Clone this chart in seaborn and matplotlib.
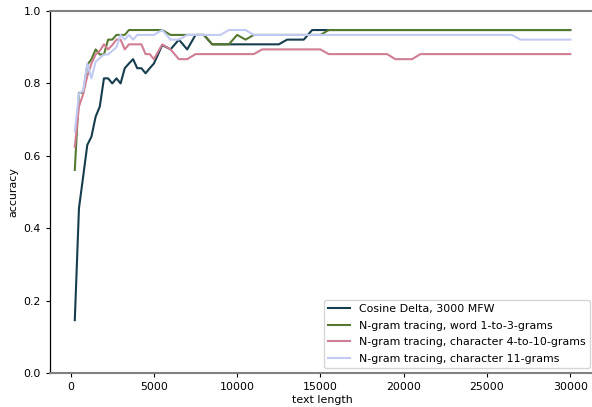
import numpy as np
import pandas as pd
import matplotlib
matplotlib.use("Agg")
import matplotlib.pyplot as plt
import seaborn as sns

text_length = list(range(250, 5001, 250)) + list(range(5500, 30001, 500))

cosine_delta = [0.146, 0.455, 0.542, 0.630, 0.653, 0.708, 0.736, 0.814, 0.814, 0.800,
                0.814, 0.800, 0.842, 0.855, 0.867, 0.842, 0.842, 0.828, 0.842, 0.855,
                0.906, 0.894, 0.921, 0.894, 0.934, 0.934,
                0.908, 0.908, 0.908, 0.908, 0.908, 0.908, 0.908, 0.908, 0.908,
                0.921, 0.921, 0.921] + [0.9475] * 32

word_ngrams = [0.561, 0.774, 0.774, 0.851, 0.867, 0.894, 0.880, 0.880, 0.921, 0.921,
               0.934, 0.934, 0.934, 0.9475, 0.9475, 0.9475, 0.9475, 0.9475, 0.9475, 0.9475,
               0.9475, 0.934, 0.934, 0.934, 0.934, 0.934,
               0.908, 0.908, 0.908, 0.934, 0.921] + [0.934] * 9 + [0.9475] * 30

char_4_10 = [0.625, 0.736, 0.770, 0.820, 0.855, 0.880, 0.890, 0.908, 0.894, 0.906,
             0.921, 0.921, 0.894, 0.908, 0.908, 0.908, 0.908, 0.881, 0.881, 0.867,
             0.908, 0.894, 0.867, 0.867] + [0.881] * 8 + [0.894] * 8 + [0.881] * 8 \
            + [0.867] * 3 + [0.881] * 19

char_11 = [0.667, 0.772, 0.780, 0.855, 0.814, 0.860, 0.870, 0.880, 0.880, 0.890,
           0.900, 0.934, 0.921, 0.934, 0.921, 0.934, 0.934, 0.934, 0.934, 0.934,
           0.9475, 0.921, 0.921, 0.934, 0.934, 0.934, 0.934, 0.934,
           0.9475, 0.9475, 0.9475] + [0.934] * 32 + [0.921] * 7

series_names = ["Cosine Delta, 3000 MFW",
                "N-gram tracing, word 1-to-3-grams",
                "N-gram tracing, character 4-to-10-grams",
                "N-gram tracing, character 11-grams"]

frames = []
for name, vals in zip(series_names, [cosine_delta, word_ngrams, char_4_10, char_11]):
    frames.append(pd.DataFrame({"text length": text_length, "accuracy": vals, "method": name}))
df = pd.concat(frames, ignore_index=True)

plt.rcParams["font.size"] = 7.9
plt.rcParams["font.family"] = ["DejaVu Sans"]

fig = plt.figure(figsize=(5.92, 4.07), dpi=100)
ax = fig.add_axes([0.0845, 0.0835, 0.9206, 0.8894])

palette = sns.color_palette("cubehelix", 4)
sns.lineplot(data=df, x="text length", y="accuracy", hue="method",
             palette=palette, linewidth=1.5, ax=ax, hue_order=series_names)

ax.set_ylim(0, 1.0)
ax.set_xticks([0, 5000, 10000, 15000, 20000, 25000, 30000])
ax.set_yticks([0.0, 0.2, 0.4, 0.6, 0.8, 1.0])
ax.set_xlabel("text length", labelpad=2)
ax.set_ylabel("accuracy")
ax.tick_params(length=3, width=0.8)

for s in ["top", "bottom"]:
    ax.spines[s].set_color("#808080")
    ax.spines[s].set_linewidth(1.5)
ax.spines["left"].set_color("black")
ax.spines["left"].set_linewidth(0.9)
ax.spines["right"].set_visible(False)

leg = ax.legend(loc="lower right", frameon=True, borderaxespad=0.45, labelspacing=0.6)
leg.set_title(None)

fig.savefig("out.png", dpi=100)
